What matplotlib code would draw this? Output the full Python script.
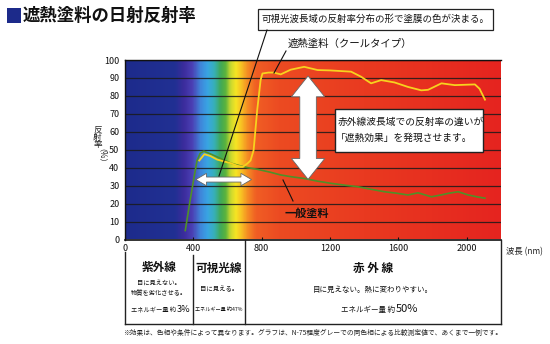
import numpy as np
import matplotlib
matplotlib.use("Agg")
import matplotlib.pyplot as plt
from matplotlib.colors import LinearSegmentedColormap
from matplotlib.patches import Polygon, Rectangle
from matplotlib.lines import Line2D
from matplotlib import transforms

plt.rcParams["font.family"] = ["Noto Sans CJK JP", "DejaVu Sans"]

# ---- data -----------------------------------------------------------
# cool-type heat-shield paint (yellow)
wl_cool = [435, 465, 500, 540, 580, 620, 660, 690, 716, 735, 753, 774, 794,
           805, 840, 870, 912, 970, 1049, 1128, 1200, 1324, 1382, 1441, 1500,
           1578, 1657, 1735, 1775, 1853, 1931, 2049, 2076, 2108]
ref_cool = [44, 47.5, 46.5, 44.5, 43.5, 42.5, 41, 40.5, 42.3, 44, 49.7, 72,
            88.8, 92.5, 93, 93, 92, 94.6, 96.2, 94.4, 94.2, 93.5, 90.7, 87,
            88.8, 87.5, 85, 83.1, 83.4, 87, 86, 86.4, 84, 77.9]

# ordinary paint (green)
wl_gen = [353, 380, 405, 422, 440, 461, 500, 540, 578, 620, 676, 720, 775,
          850, 910, 971, 1049, 1128, 1206, 1284, 1363, 1440, 1520, 1590, 1657,
          1716, 1794, 1850, 1892, 1951, 2010, 2060, 2108]
ref_gen = [5, 21, 35, 44, 48, 49.2, 47.7, 46, 44.3, 42.5, 41, 40, 39.1,
           37.5, 36, 35, 34, 32.5, 31.3, 30.3, 29.4, 28, 26.6, 25.8, 24.8,
           26, 23.8, 24.8, 25.7, 26.6, 24.8, 23.8, 23]

x_ticks = [0, 400, 800, 1200, 1600, 2000]
y_ticks = list(range(0, 101, 10))

# wavelength band boundaries (nm) and band texts
band_edges = [0, 400, 700, 2200]
band_names = ["紫外線", "可視光線", "赤 外 線"]
band_notes = ["目に見えない。\n物質を劣化させる。", "目に見える。",
              "目に見えない。熱に変わりやすい。"]
band_energy = ["3%", "47%", "50%"]

# background spectrum colour stops
spec_nm = [0, 290, 340, 390, 440, 480, 520, 555, 585, 615, 648, 678, 712,
           765, 900, 1400, 2200]
spec_col = ["#1d2b8c", "#213093", "#3b2c9c", "#4b3fb4", "#3f86da", "#39a5e4",
            "#37b0b8", "#3fa95a", "#58b23e", "#c8d830", "#f6e423", "#f8c224",
            "#f59023", "#f05e24", "#ec4b22", "#e93a20", "#e5241f"]

# ---- figure ---------------------------------------------------------
W, H = 550, 344
fig = plt.figure(figsize=(W / 100, H / 100), dpi=100)
fig.patch.set_facecolor("white")


def fx(px):
    return px / W


def fy(py):
    return 1 - py / H


ax = fig.add_axes([fx(125), fy(239.5), fx(500.7) - fx(125), fy(60) - fy(239.5)])
xmax = 2200
ax.set_xlim(0, xmax)
ax.set_ylim(0, 100)

cmap = LinearSegmentedColormap.from_list(
    "spectrum", list(zip(np.array(spec_nm) / xmax, spec_col)))
grad = np.linspace(0, 1, 1100)[None, :]
ax.imshow(grad, cmap=cmap, extent=[0, xmax, 0, 100], aspect="auto",
          zorder=0, interpolation="bilinear")

ax.set_yticks(y_ticks)
ax.set_xticks(x_ticks)
ax.yaxis.grid(True, color="#1a1a1a", lw=0.9, alpha=0.85)
ax.tick_params(axis="y", length=0, pad=4, labelsize=6.5, colors="#111")
ax.tick_params(axis="x", length=2.5, direction="in", pad=3.5,
               labelsize=6.5, colors="#111")
ax.spines["right"].set_visible(False)
ax.spines["top"].set_color("#111")
ax.spines["top"].set_linewidth(1.0)
ax.spines["left"].set_color("#111")
ax.spines["left"].set_linewidth(1.0)
ax.spines["bottom"].set_color("#111")
ax.spines["bottom"].set_linewidth(1.2)

ax.plot(wl_gen, ref_gen, color="#4f9128", lw=1.2, zorder=3,
        solid_joinstyle="round")
ax.plot(wl_cool, ref_cool, color="#f7d21e", lw=1.3, zorder=4,
        solid_joinstyle="round")


def double_arrow(x0, y0, x1, y1, shaft, head, head_len, vertical):
    if vertical:
        cx = x0
        pts = [(cx, y0), (cx - head / 2, y0 + head_len), (cx - shaft / 2, y0 + head_len),
               (cx - shaft / 2, y1 - head_len), (cx - head / 2, y1 - head_len), (cx, y1),
               (cx + head / 2, y1 - head_len), (cx + shaft / 2, y1 - head_len),
               (cx + shaft / 2, y0 + head_len), (cx + head / 2, y0 + head_len)]
    else:
        cy = y0
        pts = [(x0, cy), (x0 + head_len, cy + head / 2), (x0 + head_len, cy + shaft / 2),
               (x1 - head_len, cy + shaft / 2), (x1 - head_len, cy + head / 2), (x1, cy),
               (x1 - head_len, cy - head / 2), (x1 - head_len, cy - shaft / 2),
               (x0 + head_len, cy - shaft / 2), (x0 + head_len, cy - head / 2)]
    ax.add_patch(Polygon(pts, closed=True, facecolor="white",
                         edgecolor="#666", lw=0.6, zorder=6))


double_arrow(415, 33.4, 741, 33.4, 2.8, 6.9, 62, vertical=False)
double_arrow(1072, 33.5, 1072, 91.1, 97, 195, 11.6, vertical=True)


def fline(p0, p1, lw=0.8, color="#111"):
    fig.add_artist(Line2D([fx(p0[0]), fx(p1[0])], [fy(p0[1]), fy(p1[1])],
                          color=color, lw=lw, zorder=10))


# ---- title ----------------------------------------------------------
fig.add_artist(Rectangle((fx(7), fy(23)), fx(21) - fx(7), fy(8) - fy(23),
                         facecolor="#1c2a8a", edgecolor="none"))
fig.text(fx(23), fy(16), "遮熱塗料の日射反射率", fontsize=12.5,
         fontweight="bold", ha="left", va="center", color="#111")

# ---- call-outs ------------------------------------------------------
fig.add_artist(Rectangle((fx(258), fy(30)), fx(493) - fx(258), fy(9) - fy(30),
                         facecolor="white", edgecolor="#222", lw=0.9, zorder=9))
fig.text(fx(375.5), fy(19.5), "可視光波長域の反射率分布の形で塗膜の色が決まる。",
         fontsize=6.8, ha="center", va="center", color="#111", zorder=11)
fline((267, 30), (219, 176))

fig.text(fx(288), fy(44), "遮熱塗料（クールタイプ）", fontsize=7.5,
         ha="left", va="center", color="#111")
fline((286, 51), (274, 73))

fig.text(fx(285), fy(213), "一般塗料", fontsize=8, fontweight="bold",
         ha="left", va="center", color="#111", zorder=11)
fline((283, 180), (293, 201))

fig.add_artist(Rectangle((fx(335), fy(152)), fx(483) - fx(335), fy(109) - fy(152),
                         facecolor="white", edgecolor="#222", lw=1.0, zorder=9))
fig.text(fx(337.5), fy(122), "赤外線波長域での反射率の違いが", fontsize=7,
         ha="left", va="center", color="#111", zorder=11)
fig.text(fx(336), fy(138), "「遮熱効果」を発現させます。", fontsize=7,
         ha="left", va="center", color="#111", zorder=11)

# ---- axis labels ----------------------------------------------------
for i, ch in enumerate("反射率"):
    fig.text(fx(97.5), fy(129.5 + i * 7.6), ch, fontsize=6.2, ha="center",
             va="center", color="#222")
fig.text(fx(97.5), fy(160), "（%）", fontsize=5.8, ha="center",
         va="center", rotation=270, color="#222")
fig.text(fx(506), fy(251.5), "波長 (nm)", fontsize=6, ha="left",
         va="center", color="#222")

# ---- band table below the axis --------------------------------------
bt = transforms.blended_transform_factory(ax.transData, fig.transFigure)
tbl_bottom = fy(324)
line_tops = [fy(252), fy(255), fy(240), fy(240)]
for xe, top in zip(band_edges, line_tops):
    fig.add_artist(Line2D([xe, xe], [top, tbl_bottom], transform=bt,
                          color="#222", lw=1.0, clip_on=False))
fig.add_artist(Line2D([band_edges[0], band_edges[-1]], [tbl_bottom, tbl_bottom],
                      transform=bt, color="#222", lw=1.0, clip_on=False))

centers = [(a + b) / 2 for a, b in zip(band_edges[:-1], band_edges[1:])]
for c, name in zip(centers, band_names):
    fig.text(c, fy(268), name, transform=bt, fontsize=8.4, fontweight="bold",
             ha="center", va="center", color="#111")

fig.text(centers[0], fy(288), band_notes[0], transform=bt, fontsize=4.5,
         ha="center", va="center", linespacing=1.35, color="#111")
fig.text(centers[1], fy(289), band_notes[1], transform=bt, fontsize=4.6,
         ha="center", va="center", color="#111")
fig.text(centers[2], fy(290), band_notes[2], transform=bt, fontsize=5.4,
         ha="center", va="center", color="#111")

# energy share rows
fig.text(fx(176.5), fy(310), "エネルギー量 約", fontsize=4.5, ha="right",
         va="center", color="#111")
fig.text(fx(176.5), fy(309.5), band_energy[0], fontsize=6.6, ha="left",
         va="center", color="#111")
fig.text(centers[1], fy(310), "エネルギー量 約" + band_energy[1], transform=bt,
         fontsize=3.7, ha="center", va="center", color="#111")
fig.text(fx(395.5), fy(310), "エネルギー量 約", fontsize=5.4, ha="right",
         va="center", color="#111")
fig.text(fx(395.5), fy(309.5), band_energy[2], fontsize=8, ha="left",
         va="center", color="#111")

fig.text(fx(123), fy(333),
         "※効果は、色相や条件によって異なります。グラフは、N-75程度グレーでの同色相による比較測定値で、あくまで一例です。",
         fontsize=4.85, ha="left", va="center", color="#222")

fig.savefig("out.png", dpi=100, facecolor="white")
